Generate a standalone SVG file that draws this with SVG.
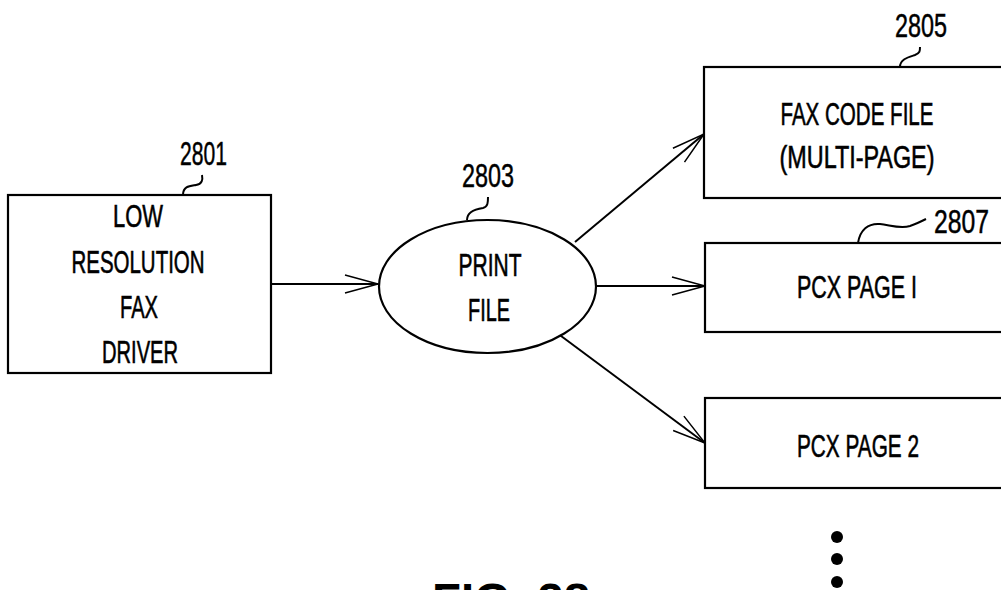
<svg xmlns="http://www.w3.org/2000/svg" width="1001" height="590" viewBox="0 0 1001 590">
<style>
.box{fill:#fff;stroke:#000;stroke-width:2.2}
.t{font-family:"Liberation Sans","DejaVu Sans",sans-serif;font-size:32px;fill:#000;stroke:#000;stroke-width:0.6;text-anchor:middle}
.n{font-family:"Liberation Sans","DejaVu Sans",sans-serif;font-size:34px;fill:#000;stroke:#000;stroke-width:0.5}
.sq{fill:none;stroke:#000;stroke-width:2}
.c{fill:none;stroke:#000;stroke-width:2}
.fig{font-family:"Liberation Sans","DejaVu Sans",sans-serif;font-size:48px;font-weight:bold;fill:#000}
</style>
<defs>
<marker id="ah" markerUnits="userSpaceOnUse" markerWidth="40" markerHeight="24" refX="0" refY="0" viewBox="-36 -12 40 24" orient="auto">
<path d="M-33,-9 L0,0 L-33,9" fill="none" stroke="#000" stroke-width="1.5"/>
</marker>
</defs>
<rect width="1001" height="590" fill="#fff"/>
<g id="connectors">
<line class="c" x1="271" y1="284" x2="378" y2="284" marker-end="url(#ah)"/>
<line class="c" x1="575" y1="242" x2="704" y2="134" marker-end="url(#ah)"/>
<line class="c" x1="596" y1="286" x2="705" y2="286" marker-end="url(#ah)"/>
<line class="c" x1="553" y1="330" x2="705" y2="443" marker-end="url(#ah)"/>
</g>
<g id="n2801">
<rect class="box" x="8" y="195" width="263" height="178"/>
<text class="t" x="138" y="227" textLength="50" lengthAdjust="spacingAndGlyphs">LOW</text>
<text class="t" x="138" y="273" textLength="133" lengthAdjust="spacingAndGlyphs">RESOLUTION</text>
<text class="t" x="139" y="318" textLength="38" lengthAdjust="spacingAndGlyphs">FAX</text>
<text class="t" x="140" y="363" textLength="76" lengthAdjust="spacingAndGlyphs">DRIVER</text>
<text class="n" x="180" y="165" textLength="47" lengthAdjust="spacingAndGlyphs">2801</text>
<path class="sq" d="M183,195 C183,186 190,186 196,185 C202,184 203,180 202,175"/>
</g>
<g id="n2803">
<ellipse class="box" cx="487.5" cy="286.5" rx="108.5" ry="66.5"/>
<text class="t" x="490" y="276" textLength="63" lengthAdjust="spacingAndGlyphs">PRINT</text>
<text class="t" x="489" y="321" textLength="42" lengthAdjust="spacingAndGlyphs">FILE</text>
<text class="n" x="462" y="187" textLength="52" lengthAdjust="spacingAndGlyphs">2803</text>
<path class="sq" d="M467,220 C467,211 476,209 483,208 C488,207 488,202 488,197"/>
</g>
<g id="n2805">
<rect class="box" x="704" y="67" width="310" height="131"/>
<text class="t" x="857" y="125" textLength="153" lengthAdjust="spacingAndGlyphs">FAX CODE FILE</text>
<text class="t" x="857" y="168" textLength="155" lengthAdjust="spacingAndGlyphs">(MULTI-PAGE)</text>
<text class="n" x="895" y="37" textLength="52" lengthAdjust="spacingAndGlyphs">2805</text>
<path class="sq" d="M900,67 C900,59 909,57 915,55 C920,53 920,51 920,47"/>
</g>
<g id="n2807">
<rect class="box" x="705" y="243" width="310" height="89"/>
<text class="t" x="857" y="298" textLength="120" lengthAdjust="spacingAndGlyphs">PCX PAGE I</text>
<text class="n" x="934" y="233" textLength="55" lengthAdjust="spacingAndGlyphs">2807</text>
<path class="sq" d="M858,243 C860,230 868,223 880,224 C890,225 900,229 910,226 C916,224 922,221 926,219"/>
</g>
<g id="pcx2">
<rect class="box" x="705" y="398" width="310" height="90"/>
<text class="t" x="858" y="457" textLength="122" lengthAdjust="spacingAndGlyphs">PCX PAGE 2</text>
</g>
<g id="dots">
<circle cx="837" cy="537" r="6"/>
<circle cx="837" cy="559" r="6"/>
<circle cx="837" cy="582" r="6"/>
</g>
<text class="fig" x="432" y="617" textLength="158" lengthAdjust="spacingAndGlyphs">FIG. 28</text>
</svg>
